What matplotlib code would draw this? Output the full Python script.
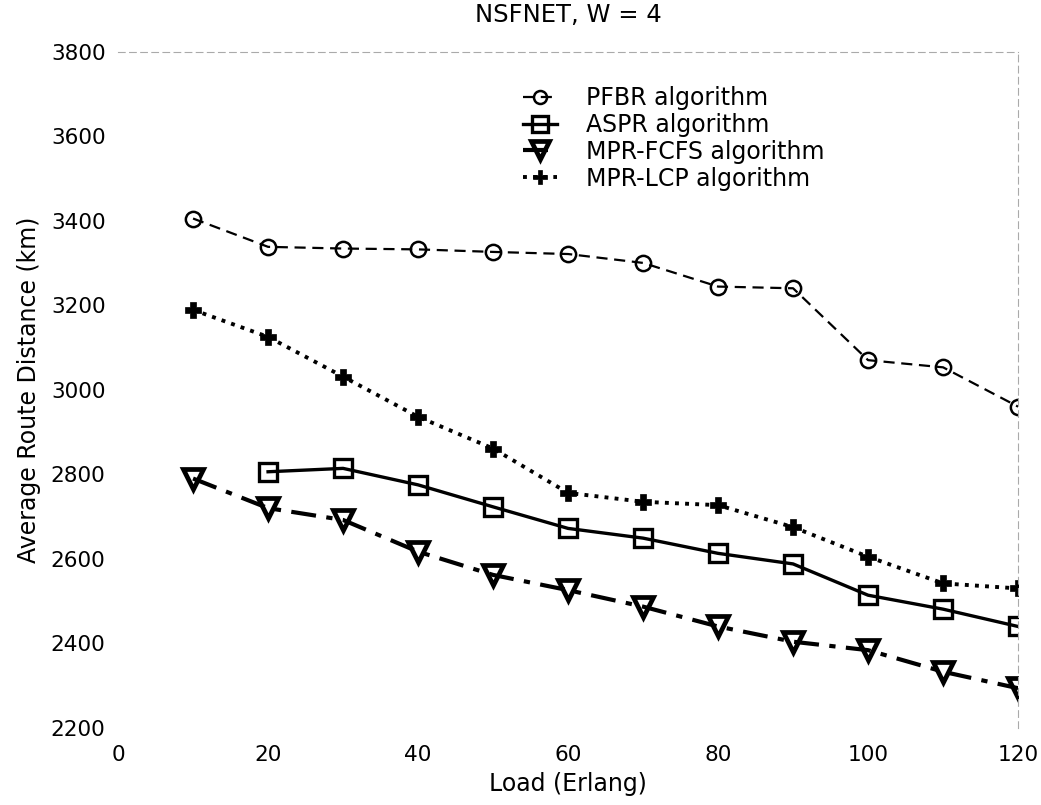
import matplotlib
matplotlib.use("Agg")
import matplotlib.pyplot as plt

plt.rcParams["font.family"] = ["DejaVu Sans"]

# ---- data -----------------------------------------------------------------
load = [10, 20, 30, 40, 50, 60, 70, 80, 90, 100, 110, 120]
load_aspr = load[1:]

pfbr = [3405, 3338, 3334, 3332, 3326, 3321, 3300, 3244, 3240, 3070, 3053, 2960]
aspr = [2806, 2814, 2775, 2723, 2672, 2649, 2613, 2588, 2514, 2481, 2440]
mpr_fcfs = [2790, 2720, 2692, 2617, 2562, 2526, 2487, 2440, 2404, 2384, 2333, 2294]
mpr_lcp = [3189, 3125, 3031, 2936, 2861, 2756, 2735, 2727, 2675, 2605, 2542, 2530]

xticks = [0, 20, 40, 60, 80, 100, 120]
yticks = [2200, 2400, 2600, 2800, 3000, 3200, 3400, 3600, 3800]

fig = plt.figure(figsize=(10.41, 8.05), dpi=100)
ax = fig.add_axes([0.1134, 0.0957, 0.8646, 0.8403])

ax.plot(load, pfbr, color="black", ls=(0, (5, 3)), lw=1.6, marker="o", ms=11,
        mfc="none", mew=1.8, label="PFBR algorithm")
ax.plot(load_aspr, aspr, color="black", ls="-", lw=2.4, marker="s", ms=13,
        mfc="none", mew=2.4, label="ASPR algorithm")
ax.plot(load, mpr_fcfs, color="black", ls=(0, (6, 2.5, 1.5, 2.5)), lw=3.0, marker="v",
        ms=15, mfc="none", mew=3.4, label="MPR-FCFS algorithm")
ax.plot(load, mpr_lcp, color="black", ls=(0, (1, 1.6)), lw=2.8, marker="P", ms=12,
        mfc="black", mew=0.5, label="MPR-LCP algorithm")

ax.set_xlim(0, 120)
ax.set_ylim(2200, 3800)
ax.set_xticks(xticks)
ax.set_yticks(yticks)
ax.tick_params(length=0, labelsize=15.6)
ax.tick_params(axis="x", pad=12)
ax.tick_params(axis="y", pad=9)

for s in ("left", "bottom"):
    ax.spines[s].set_visible(False)
for s in ("top", "right"):
    ax.spines[s].set_color("#aaaaaa")
    ax.spines[s].set_linestyle((0, (6, 4)))
    ax.spines[s].set_linewidth(0.8)

ax.set_title("NSFNET, W = 4", fontsize=17.5, pad=21)
ax.set_xlabel("Load (Erlang)", fontsize=17, labelpad=5)
ax.set_ylabel("Average Route Distance (km)", fontsize=17, labelpad=7)

ax.legend(loc="upper left", bbox_to_anchor=(0.45, 0.949), frameon=False,
          fontsize=17, handlelength=1.45, handletextpad=1.2, labelspacing=0.12,
          borderaxespad=0, borderpad=0, markerscale=0.85)

fig.savefig("out.png", dpi=100)
